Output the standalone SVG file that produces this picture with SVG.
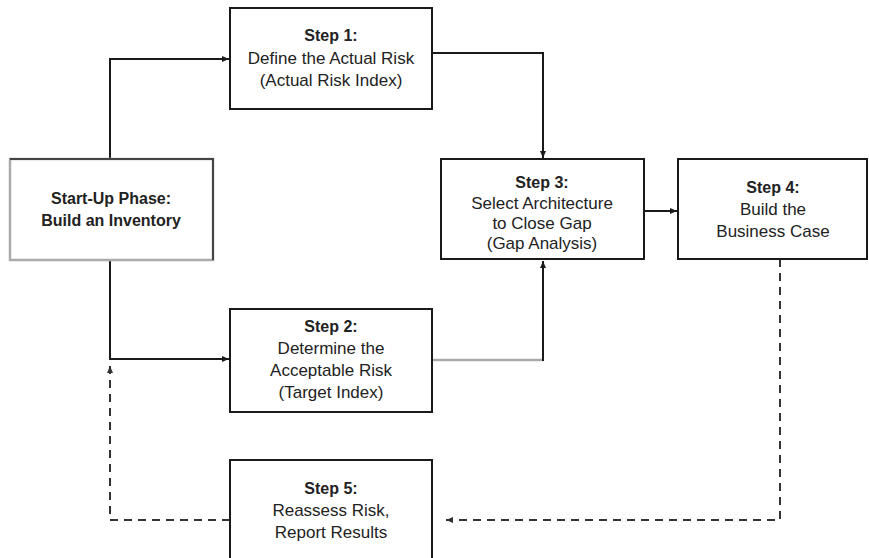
<svg xmlns="http://www.w3.org/2000/svg" width="869" height="558" viewBox="0 0 869 558">
<style>
.box{fill:#fff;stroke:#1a1a1a;stroke-width:2}
.t{font-family:"Liberation Sans",Arial,sans-serif;font-size:17px;fill:#222;text-anchor:middle}
.b{font-weight:bold;font-size:16px}
.c{fill:none;stroke:#1a1a1a;stroke-width:2}
.g{fill:none;stroke:#aaa;stroke-width:2.5}
.d{fill:none;stroke:#333;stroke-width:2;stroke-dasharray:8,6}
</style>
<defs>
<marker id="ah" markerWidth="8" markerHeight="8" refX="7" refY="4" orient="auto" markerUnits="userSpaceOnUse">
<path d="M0,1 L7,4 L0,7 Z" fill="#1a1a1a"/>
</marker>
<marker id="ahd" markerWidth="8" markerHeight="8" refX="7" refY="4" orient="auto" markerUnits="userSpaceOnUse">
<path d="M0,1 L7,4 L0,7 Z" fill="#333"/>
</marker>
</defs>
<rect width="869" height="558" fill="#fff"/>
<g id="connectors">
<path class="c" d="M110,159 V59 H229" marker-end="url(#ah)"/>
<path class="c" d="M432,53 H543 V158" marker-end="url(#ah)"/>
<path class="c" d="M110,260 V359 H229" marker-end="url(#ah)"/>
<path class="g" d="M432,360 H543"/>
<path class="c" d="M543,361 V261" marker-end="url(#ah)"/>
<path class="c" d="M644,211 H677" marker-end="url(#ah)"/>
<path class="d" d="M780,259 V520 H446" marker-end="url(#ahd)"/>
<path class="d" d="M230,520 H110 V366" marker-end="url(#ahd)"/>
</g>
<g id="startup">
<rect x="10" y="159" width="203" height="101" fill="#fff" stroke="#aaa" stroke-width="2.5"/>
<path d="M10,159 H213 V260" fill="none" stroke="#444" stroke-width="2"/>
<text class="t b" x="111" y="204">Start-Up Phase:</text>
<text class="t b" x="111" y="226">Build an Inventory</text>
</g>
<g id="step1">
<rect class="box" x="230" y="8" width="202" height="101"/>
<text class="t b" x="331" y="41">Step 1:</text>
<text class="t" x="331" y="64">Define the Actual Risk</text>
<text class="t" x="331" y="86">(Actual Risk Index)</text>
</g>
<g id="step2">
<rect class="box" x="230" y="309" width="202" height="103"/>
<text class="t b" x="331" y="332">Step 2:</text>
<text class="t" x="331" y="354">Determine the</text>
<text class="t" x="331" y="376">Acceptable Risk</text>
<text class="t" x="331" y="398">(Target Index)</text>
</g>
<g id="step3">
<rect class="box" x="441" y="159" width="203" height="100"/>
<text class="t b" x="542" y="188">Step 3:</text>
<text class="t" x="542" y="209">Select Architecture</text>
<text class="t" x="542" y="229">to Close Gap</text>
<text class="t" x="542" y="249">(Gap Analysis)</text>
</g>
<g id="step4">
<rect class="box" x="678" y="159" width="189" height="100"/>
<text class="t b" x="773" y="193">Step 4:</text>
<text class="t" x="773" y="215">Build the</text>
<text class="t" x="773" y="237">Business Case</text>
</g>
<g id="step5">
<rect class="box" x="230" y="460" width="202" height="110"/>
<text class="t b" x="331" y="494">Step 5:</text>
<text class="t" x="331" y="516">Reassess Risk,</text>
<text class="t" x="331" y="538">Report Results</text>
</g>
</svg>
